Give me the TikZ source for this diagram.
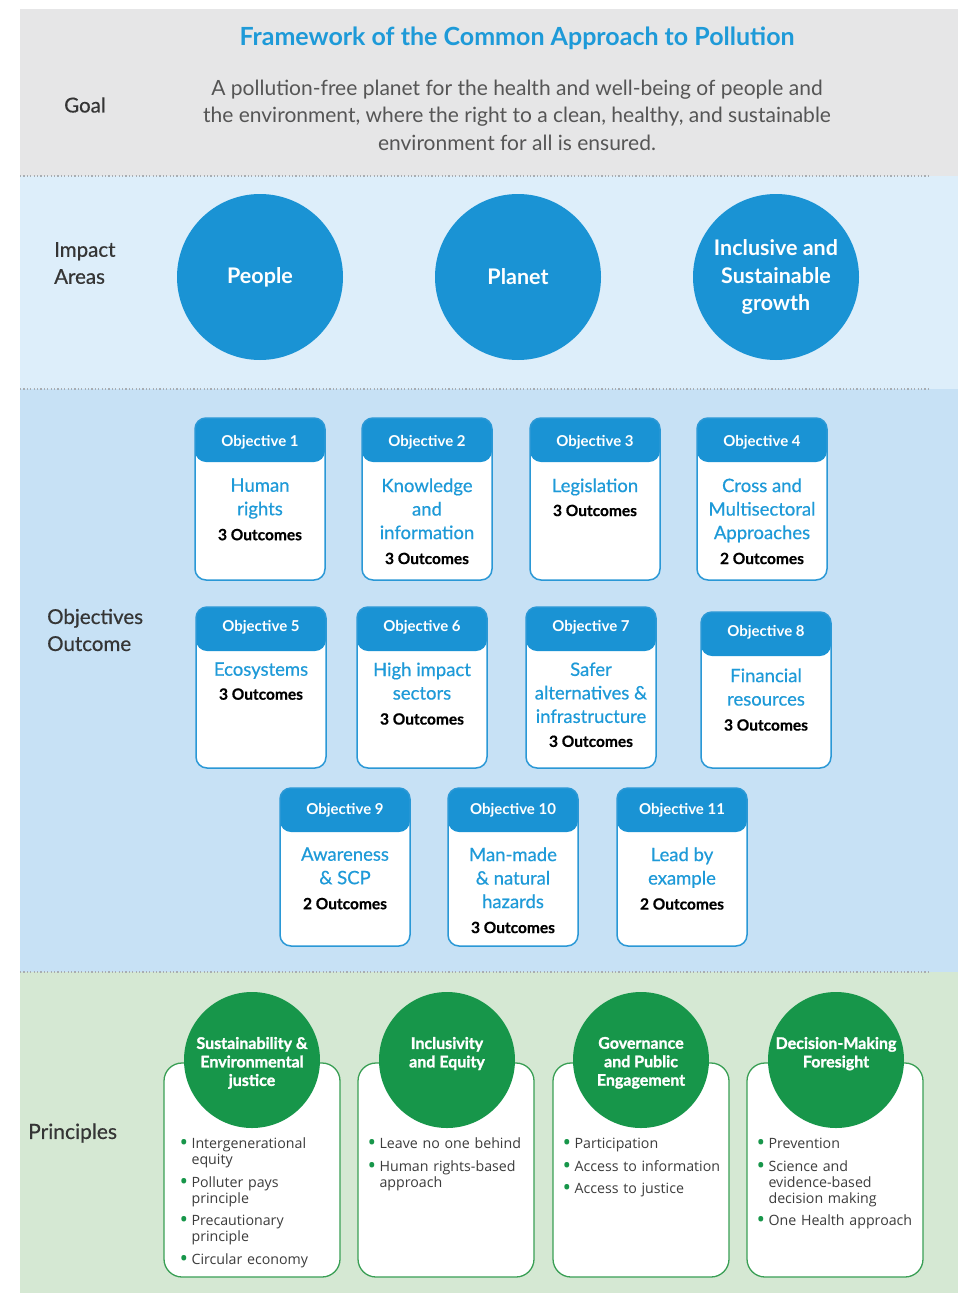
\documentclass[tikz,border=0pt]{standalone}
\usepackage{fontspec}
\setmainfont{Lato}
\newfontfamily\latomed{Lato}[FakeBold=0.5]
\newfontfamily\latoheavy{Lato}[FakeBold=1.4]
\newfontfamily\bulletfont{Open Sans}
\usepackage{tikz}
\usetikzlibrary{positioning,shapes.geometric}
\definecolor{goalgray}{HTML}{E6E6E7}
\definecolor{impactbg}{HTML}{DDEEFA}
\definecolor{objbg}{HTML}{C7E1F5}
\definecolor{princbg}{HTML}{D5E8D3}
\definecolor{circblue}{HTML}{1A93D4}
\definecolor{titleblue}{HTML}{1E9AD8}
\definecolor{objline}{HTML}{2A98D6}
\definecolor{pgreen}{HTML}{17964A}
\definecolor{pline}{HTML}{3A9F55}
\definecolor{labelgray}{HTML}{353535}
\definecolor{goaltext}{HTML}{555555}
\definecolor{listgray}{HTML}{3C3C3C}
\definecolor{sepgray}{HTML}{A8ADB2}
\newcommand{\outc}[1]{{\fontsize{15.5}{23.5}\selectfont\bfseries\color{black}#1}}
\newcommand{\pitem}[1]{\par\noindent\hangindent=12pt\hangafter=1\makebox[12pt][l]{\textcolor{pgreen}{\raisebox{-2.4pt}{\scalebox{1.6}{\textbullet}}}}#1\par\vspace{6.5pt}}

\begin{document}
\begin{tikzpicture}[x=1pt, y=-1pt]
    \tikzstyle{sepline} = [draw=sepgray, line width=1.2pt, dash pattern=on 1.2pt off 2.2pt]
    \tikzstyle{sidelabel} = [anchor=west, align=left, text=labelgray, inner sep=0pt, font=\latomed\fontsize{20.5}{27}\selectfont]
    \tikzstyle{impact} = [circle, fill=circblue, text=white, minimum size=166pt, inner sep=0pt, align=center, font=\fontsize{21.5}{27.5}\selectfont\bfseries]
    \tikzstyle{objbox} = [rectangle, draw=objline, line width=1.5pt, fill=white, rounded corners=11pt, minimum width=130pt, inner sep=0pt,
        path picture={\fill[circblue] ([yshift=-44pt]path picture bounding box.north west) rectangle (path picture bounding box.north east);}]
    \tikzstyle{objhead} = [text=white, inner sep=0pt, font=\fontsize{15}{17}\selectfont\bfseries]
    \tikzstyle{objtext} = [anchor=north, align=center, text=titleblue, inner sep=0pt, font=\latomed\fontsize{18.5}{23.5}\selectfont]
    \tikzstyle{pbox} = [rectangle, draw=pline, line width=1.3pt, fill=white, rounded corners=18pt, minimum width=176pt, minimum height=214pt, inner sep=0pt]
    \tikzstyle{pcirc} = [circle, fill=pgreen, minimum size=136pt, inner sep=0pt]
    \tikzstyle{ptitle} = [anchor=north, align=center, text=white, inner sep=0pt, font=\latoheavy\fontsize{16}{18.5}\selectfont\bfseries]
    \tikzstyle{plist} = [anchor=north west, text width=166pt, align=left, inner sep=0pt, text=listgray, font=\bulletfont\fontsize{14.2}{16}\selectfont]

    \useasboundingbox (0,0) rectangle (958,1293);

    % Bands
    \fill[goalgray] (20,9) rectangle (958,176);
    \fill[impactbg] (20,176) rectangle (958,389);
    \fill[objbg] (20,389) rectangle (958,972);
    \fill[princbg] (20,972) rectangle (958,1293);
    \path [sepline] (20,176) -- (928,176);
    \path [sepline] (20,389) -- (928,389);
    \path [sepline] (20,972) -- (928,972);

    % Goal
    \node [text=titleblue, font=\fontsize{25}{29}\selectfont\bfseries] (title) at (517,38) {Framework of the Common Approach to Pollution};
    \node [sidelabel] (goal) at (64,105) {Goal};
    \node [align=center, text=goaltext, font=\fontsize{21}{27.5}\selectfont] (goaltxt) at (517,115) {A pollution-free planet for the health and well-being of people and\\the environment, where the right to a clean, healthy, and sustainable\\environment for all is ensured.};

    % Impact Areas
    \node [sidelabel] (impact) at (54,263) {Impact\\Areas};
    \node [impact] (people) at (260,277) {People};
    \node [impact] (planet) at (518,277) {Planet};
    \node [impact] (growth) at (776,277) {Inclusive and\\Sustainable\\growth};

    % Objectives Outcome
    \node [sidelabel] (objout) at (47,630) {Objectives\\Outcome};

    % Objective 1
    \node [objbox, minimum height=162pt] (obj1) at (260,499) {};
    \node [objhead] (obj1h) at ([yshift=-25pt]obj1.north) {Objective 1};
    \node [objtext] (obj1t) at ([yshift=-61pt]obj1.north) {Human\\rights\\[1.5pt]\outc{3 Outcomes}};

    % Objective 2
    \node [objbox, minimum height=162pt] (obj2) at (427,499) {};
    \node [objhead] (obj2h) at ([yshift=-25pt]obj2.north) {Objective 2};
    \node [objtext] (obj2t) at ([yshift=-61pt]obj2.north) {Knowledge\\and\\information\\[1.5pt]\outc{3 Outcomes}};

    % Objective 3
    \node [objbox, minimum height=162pt] (obj3) at (595,499) {};
    \node [objhead] (obj3h) at ([yshift=-25pt]obj3.north) {Objective 3};
    \node [objtext] (obj3t) at ([yshift=-61pt]obj3.north) {Legislation\\[0.5pt]\outc{3 Outcomes}};

    % Objective 4
    \node [objbox, minimum height=162pt] (obj4) at (762,499) {};
    \node [objhead] (obj4h) at ([yshift=-25pt]obj4.north) {Objective 4};
    \node [objtext] (obj4t) at ([yshift=-61pt]obj4.north) {Cross and\\Multisectoral\\Approaches\\[1.5pt]\outc{2 Outcomes}};

    % Objective 5
    \node [objbox, minimum height=161pt] (obj5) at (261,687.5) {};
    \node [objhead] (obj5h) at ([yshift=-21pt]obj5.north) {Objective 5};
    \node [objtext] (obj5t) at ([yshift=-56pt]obj5.north) {Ecosystems\\[0.5pt]\outc{3 Outcomes}};

    % Objective 6
    \node [objbox, minimum height=161pt] (obj6) at (422,687.5) {};
    \node [objhead] (obj6h) at ([yshift=-21pt]obj6.north) {Objective 6};
    \node [objtext] (obj6t) at ([yshift=-56pt]obj6.north) {High impact\\sectors\\[1.5pt]\outc{3 Outcomes}};

    % Objective 7
    \node [objbox, minimum height=161pt] (obj7) at (591,687.5) {};
    \node [objhead] (obj7h) at ([yshift=-21pt]obj7.north) {Objective 7};
    \node [objtext] (obj7t) at ([yshift=-56pt]obj7.north) {Safer\\alternatives \&\\infrastructure\\[0.5pt]\outc{3 Outcomes}};

    % Objective 8
    \node [objbox, minimum height=156pt] (obj8) at (766,690) {};
    \node [objhead] (obj8h) at ([yshift=-21pt]obj8.north) {Objective 8};
    \node [objtext] (obj8t) at ([yshift=-57pt]obj8.north) {Financial\\resources\\[1.5pt]\outc{3 Outcomes}};

    % Objective 9
    \node [objbox, minimum height=158pt] (obj9) at (345,867) {};
    \node [objhead] (obj9h) at ([yshift=-23pt]obj9.north) {Objective 9};
    \node [objtext] (obj9t) at ([yshift=-60pt]obj9.north) {Awareness\\\& SCP\\[1.5pt]\outc{2 Outcomes}};

    % Objective 10
    \node [objbox, minimum height=158pt] (obj10) at (513,867) {};
    \node [objhead] (obj10h) at ([yshift=-23pt]obj10.north) {Objective 10};
    \node [objtext] (obj10t) at ([yshift=-60pt]obj10.north) {Man-made\\\& natural\\hazards\\[1.5pt]\outc{3 Outcomes}};

    % Objective 11
    \node [objbox, minimum height=158pt] (obj11) at (682,867) {};
    \node [objhead] (obj11h) at ([yshift=-23pt]obj11.north) {Objective 11};
    \node [objtext] (obj11t) at ([yshift=-60pt]obj11.north) {Lead by\\example\\[1.5pt]\outc{2 Outcomes}};

    % Principles
    \node [sidelabel, font=\latomed\fontsize{21}{27}\selectfont] (princ) at (28,1133) {Principles};

    % Sustainability & Environmental justice
    \node [pbox] (p1) at (252,1170) {};
    \node [pcirc] (p1c) at (252,1060) {};
    \node [ptitle] (p1t) at ([yshift=-45pt]p1c.north) {Sustainability \&\\Environmental\\justice};
    \node [plist] (p1l) at ([xshift=16pt,yshift=-70pt]p1.north west) {\pitem{Intergenerational\newline equity}\pitem{Polluter pays\newline principle}\pitem{Precautionary\newline principle}\pitem{Circular economy}};

    % Inclusivity and Equity
    \node [pbox] (p2) at (446,1170) {};
    \node [pcirc] (p2c) at (447,1060) {};
    \node [ptitle] (p2t) at ([yshift=-45pt]p2c.north) {Inclusivity\\and Equity};
    \node [plist] (p2l) at ([xshift=10pt,yshift=-70pt]p2.north west) {\pitem{Leave no one behind}\pitem{Human rights-based\newline approach}};

    % Governance and Public Engagement
    \node [pbox] (p3) at (641,1170) {};
    \node [pcirc] (p3c) at (641,1060) {};
    \node [ptitle] (p3t) at ([yshift=-45pt]p3c.north) {Governance\\and Public\\Engagement};
    \node [plist] (p3l) at ([xshift=10pt,yshift=-70pt]p3.north west) {\pitem{Participation}\pitem{Access to information}\pitem{Access to justice}};

    % Decision-Making Foresight
    \node [pbox] (p4) at (835,1170) {};
    \node [pcirc] (p4c) at (836,1060) {};
    \node [ptitle] (p4t) at ([yshift=-45pt]p4c.north) {Decision-Making\\Foresight};
    \node [plist] (p4l) at ([xshift=10pt,yshift=-70pt]p4.north west) {\pitem{Prevention}\pitem{Science and\newline evidence-based\newline decision making}\pitem{One Health approach}};

\end{tikzpicture}
\end{document}
